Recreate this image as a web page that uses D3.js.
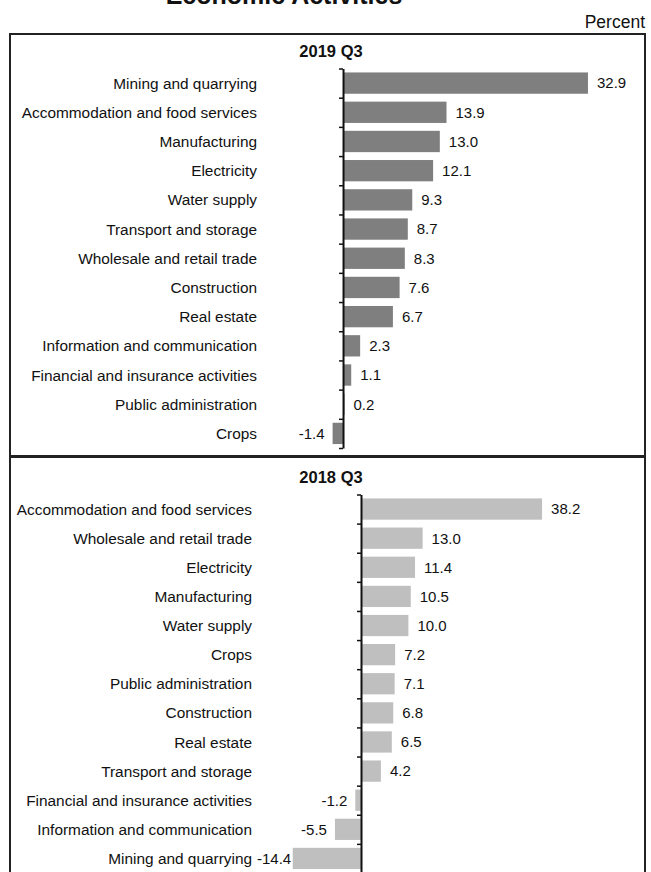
<!DOCTYPE html>
<html>
<head>
<meta charset="utf-8">
<script src="https://cdn.jsdelivr.net/npm/d3@7"></script>
<style>
  html, body { margin: 0; padding: 0; background: #fff; }
  svg { display: block; font-family: "Liberation Sans", Arial, Helvetica, sans-serif; }
</style>
</head>
<body>
<svg id="chart" width="651" height="872"></svg>
<script>
const title = "Economic Activities";
const unitLabel = "Percent";

const panel1Title = "2019 Q3";
const categories2019 = ["Mining and quarrying", "Accommodation and food services", "Manufacturing", "Electricity", "Water supply", "Transport and storage", "Wholesale and retail trade", "Construction", "Real estate", "Information and communication", "Financial and insurance activities", "Public administration", "Crops"];
const values2019 = [32.9, 13.9, 13.0, 12.1, 9.3, 8.7, 8.3, 7.6, 6.7, 2.3, 1.1, 0.2, -1.4];

const panel2Title = "2018 Q3";
const categories2018 = ["Accommodation and food services", "Wholesale and retail trade", "Electricity", "Manufacturing", "Water supply", "Crops", "Public administration", "Construction", "Real estate", "Transport and storage", "Financial and insurance activities", "Information and communication", "Mining and quarrying"];
const values2018 = [38.2, 13.0, 11.4, 10.5, 10.0, 7.2, 7.1, 6.8, 6.5, 4.2, -1.2, -5.5, -14.4];

const svg = d3.select("#chart");
const fmt = v => d3.format(".1f")(v).replace("\u2212", "-");

// Title (partly cut off at top)
svg.append("text")
  .attr("x", 284).attr("y", 4)
  .attr("text-anchor", "middle")
  .attr("font-size", 25).attr("font-weight", "bold")
  .attr("fill", "#111")
  .text(title);

svg.append("text")
  .attr("x", 645).attr("y", 28)
  .attr("text-anchor", "end")
  .attr("font-size", 17.5)
  .attr("fill", "#111")
  .text(unitLabel);

// Panel boxes
svg.append("rect")
  .attr("x", 10).attr("y", 34).attr("width", 635).attr("height", 422)
  .attr("fill", "none").attr("stroke", "#222").attr("stroke-width", 2);
svg.append("path")
  .attr("d", "M10,880 L10,457 L645,457 L645,880")
  .attr("fill", "none").attr("stroke", "#222").attr("stroke-width", 2);

function drawPanel(cfg) {
  const g = svg.append("g");
  g.append("text")
    .attr("x", 331).attr("y", cfg.titleY)
    .attr("text-anchor", "middle")
    .attr("font-size", 16.5).attr("font-weight", "bold")
    .attr("fill", "#111")
    .text(cfg.title);

  const x = d3.scaleLinear().domain(cfg.xDomain).range(cfg.xRange);
  const y = d3.scaleBand().domain(cfg.categories).range([cfg.yTop, cfg.yBottom])
    .paddingInner(0.27).paddingOuter(0.135);
  const yIdx = d3.scaleLinear().domain([0, cfg.categories.length]).range([cfg.yTop, cfg.yBottom]);
  const data = cfg.categories.map((c, i) => ({ c, v: cfg.values[i] }));

  g.selectAll("rect.bar").data(data).join("rect")
    .attr("class", "bar")
    .attr("x", d => x(Math.min(0, d.v)))
    .attr("width", d => Math.abs(x(d.v) - x(0)))
    .attr("y", d => y(d.c))
    .attr("height", y.bandwidth())
    .attr("fill", cfg.color);

  // axis with ticks between categories
  const axis = d3.axisLeft(yIdx)
    .tickValues(d3.range(cfg.categories.length + 1))
    .tickFormat("")
    .tickSize(4).tickSizeOuter(0);
  const ag = g.append("g").attr("transform", `translate(${x(0)},0)`).call(axis);
  ag.select(".domain").attr("stroke", "#111").attr("stroke-width", 2);
  ag.selectAll(".tick line").attr("stroke", "#111").attr("stroke-width", 1.5);

  // category labels
  const labelEnd = x(0) - cfg.labelGap;
  g.selectAll("text.cat").data(data).join("text")
    .attr("class", "cat")
    .attr("x", labelEnd)
    .attr("y", d => y(d.c) + y.bandwidth() / 2)
    .attr("dy", "0.36em")
    .attr("text-anchor", "end")
    .attr("font-size", 15.4)
    .attr("fill", "#111")
    .text(d => d.c);

  // value labels
  const vals = g.selectAll("text.val").data(data).join("text")
    .attr("class", "val")
    .attr("y", d => y(d.c) + y.bandwidth() / 2)
    .attr("dy", "0.36em")
    .attr("text-anchor", "start")
    .attr("font-size", 15)
    .attr("fill", "#111")
    .text(d => fmt(d.v));
  vals.each(function(d) {
    const w = this.getComputedTextLength();
    let xs;
    if (d.v >= 0) xs = x(d.v) + 9;
    else xs = Math.max(x(d.v) - 8 - w, labelEnd + 5);
    d3.select(this).attr("x", xs);
  });
}

drawPanel({
  title: panel1Title, titleY: 57,
  categories: categories2019, values: values2019,
  xDomain: [-5, 35], xRange: [305.8, 603.6],
  yTop: 68.5, yBottom: 448,
  color: "#7f7f7f", labelGap: 86
});

drawPanel({
  title: panel2Title, titleY: 483,
  categories: categories2018, values: values2018,
  xDomain: [-20, 45], xRange: [266.2, 574.3],
  yTop: 494.5, yBottom: 873,
  color: "#bfbfbf", labelGap: 109
});
</script>
</body>
</html>
